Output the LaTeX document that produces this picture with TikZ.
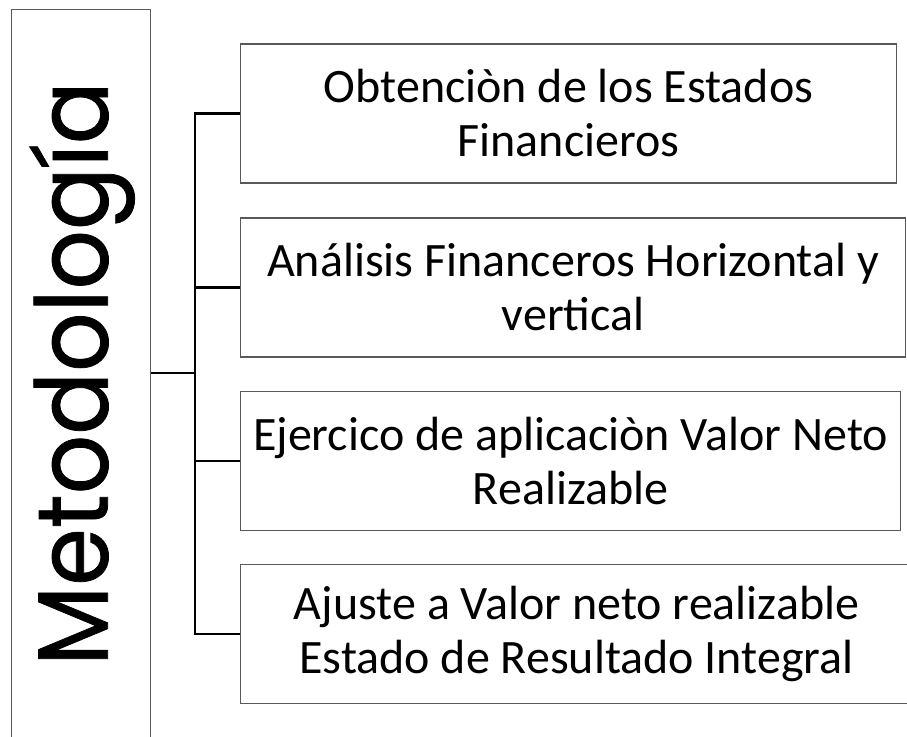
\documentclass[tikz,border=0pt]{standalone}
\usepackage{fontspec}
\setmainfont{Carlito}
\newfontfamily\titlefont[FakeBold=0.8]{Poppins}
\usetikzlibrary{positioning}
\tikzset{
    stepbox/.style={draw=black!65, line width=1.2pt, minimum height=139pt, align=center,
        inner sep=6pt, font=\fontsize{48}{54}\selectfont, anchor=west},
    branch/.style={draw=black, line width=2.6pt}
}
\begin{document}
\begin{tikzpicture}[x=1pt,y=-1pt]
                \useasboundingbox[fill=white] (0,0) rectangle (907,736);
                \node[draw=black!65, line width=1.2pt, minimum width=139pt, minimum height=740pt,
                      anchor=north west, inner sep=0pt] (metodo) at (11,9) {};
                \node[rotate=90, xscale=0.93, font=\titlefont\fontsize{100}{100}\selectfont] (titulo)
                      at ([xshift=1pt,yshift=6pt]metodo.center) {Metodología};
                \node[stepbox, minimum width=656pt] (paso1) at (240,113.5) {Obtenciòn de los Estados\\Financieros};
                \node[stepbox, minimum width=665pt] (paso2) at (240,287.5) {Análisis Financeros Horizontal y\\vertical};
                \node[stepbox, minimum width=660pt] (paso3) at (240,461) {Ejercico de aplicaciòn Valor Neto\\Realizable};
                \node[stepbox, minimum width=672pt] (paso4) at (240,634) {Ajuste a Valor neto realizable\\Estado de Resultado Integral};
                \coordinate (eje) at (195,373);
                \draw[branch] (metodo.east |- eje) -- (eje);
                \draw[branch, line cap=rect] (eje |- paso1.west) -- (eje |- paso4.west);
                \foreach \p in {paso1, paso2, paso3, paso4}{
                    \draw[branch] (eje |- \p.west) -- (\p.west);
                }
            \end{tikzpicture}
\end{document}
